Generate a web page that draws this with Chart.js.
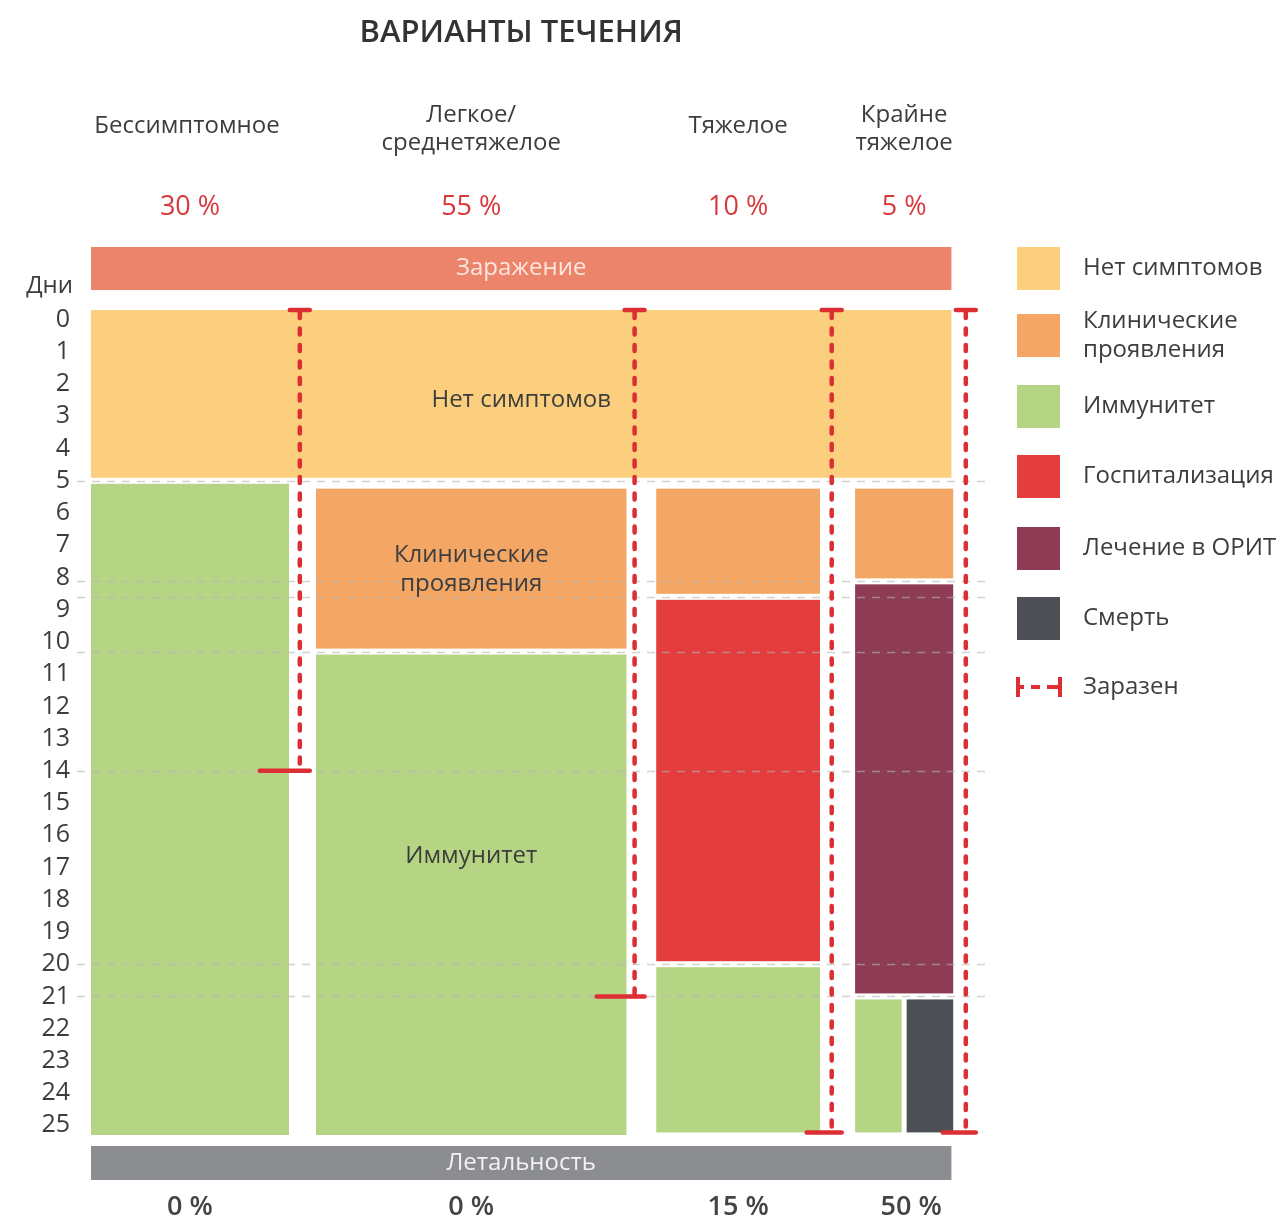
<!DOCTYPE html>
<html>
<head>
<meta charset="utf-8">
<script src="https://cdn.jsdelivr.net/npm/chart.js@4.4.1/dist/chart.umd.min.js"></script>
<style>
  html, body { margin: 0; padding: 0; background: #fff; }
  canvas { display: block; }
</style>
</head>
<body>
<canvas id="courseChart" width="1287" height="1221"></canvas>
<script>
// ---- data ----
const courseNames = [["Бессимптомное"], ["Легкое/", "среднетяжелое"], ["Тяжелое"], ["Крайне", "тяжелое"]];
const courseShare = [30, 55, 10, 5];
const lethality = [0, 0, 15, 50];
const dayTicks = [0, 1, 2, 3, 4, 5, 6, 7, 8, 9, 10, 11, 12, 13, 14, 15, 16, 17, 18, 19, 20, 21, 22, 23, 24, 25];
const stateNames = [["Нет симптомов"], ["Клинические", "проявления"], ["Иммунитет"], ["Госпитализация"], ["Лечение в ОРИТ"], ["Смерть"]];

// phases: [state, from day, to day]
const phaseNoSymptoms = [-0.3, 5];
const phasesAsymptomatic = [[2, 5, 25.3]];
const phasesMild = [[1, 5.15, 10.3], [2, 10.3, 25.3]];
const phasesSevere = [[1, 5.15, 8.6], [3, 8.6, 20], [2, 20, 25.22]];
const phasesCritical = [[1, 5.15, 8.12], [4, 8.12, 21], [2, 21, 25.22], [5, 21, 25.22]];
const contagiousDays = [[-0.3, 14], [-0.3, 21], [-0.3, 25.22], [-0.3, 25.22]];
const changeDays = [5, 8.12, 8.6, 10.3, 14, 20, 21];

// ---- layout / style ----
const stateColors = ["#FBCF7E", "#F4A765", "#B5D585", "#E43D3E", "#8E3C56", "#4D5054"];
const columnSpan = [[0, 22], [25, 59.5], [62.8, 81], [84.9, 95.8]];
const bandSpan = [0, 95.6];
const contagiousX = [23.2, 60.4, 82.3, 97.2];
const capLeft = [40, 38, 25, 23];
const redLine = "#DC2E33";
const textColor = "#3d3d3d";
const FONT = "'Open Sans', sans-serif";

const allPhases = [phasesAsymptomatic, phasesMild, phasesSevere, phasesCritical];

function txt(ctx, s, x, y, size, color, align, weight) {
  ctx.save();
  ctx.font = (weight || 400) + " " + size + "px " + FONT;
  ctx.fillStyle = color;
  ctx.textAlign = align || "center";
  ctx.textBaseline = "middle";
  ctx.fillText(s, x, y);
  ctx.restore();
}

function drawContagious(ctx, x, y0, y1, left, right) {
  ctx.save();
  ctx.strokeStyle = redLine;
  ctx.lineWidth = 4.5;
  ctx.lineCap = "round";
  ctx.setLineDash([6, 10.5]);
  ctx.beginPath();
  ctx.moveTo(x, y0 + 2);
  ctx.lineTo(x, y1);
  ctx.stroke();
  ctx.setLineDash([]);
  ctx.beginPath();
  ctx.moveTo(x - 10, y0); ctx.lineTo(x + 10, y0);
  ctx.moveTo(x - left, y1); ctx.lineTo(x + right, y1);
  ctx.stroke();
  ctx.restore();
}

const coursePlugin = {
  id: "coursePlugin",
  beforeDatasetsDraw(chart) {
    const ctx = chart.ctx;
    const xs = chart.scales.x, ys = chart.scales.y;
    const yMin = ys.min;
    const gap = 3;
    function rect(a, b, d0, d1, color, lx, rx) {
      let top = ys.getPixelForValue(d0), bot = ys.getPixelForValue(d1);
      if (d0 > yMin + 0.01) top += gap;
      if (d1 < 25) bot -= gap;
      const x0 = xs.getPixelForValue(a) + (lx || 0);
      const x1 = xs.getPixelForValue(b) - (rx || 0);
      ctx.fillStyle = color;
      ctx.fillRect(x0, top, x1 - x0, bot - top);
    }
    // common phase without symptoms
    rect(bandSpan[0], bandSpan[1], phaseNoSymptoms[0], phaseNoSymptoms[1], stateColors[0]);
    allPhases.forEach((phases, i) => {
      const span = columnSpan[i];
      const death = phases.find(p => p[0] === 5);
      phases.forEach(p => {
        let a = span[0], b = span[1], lx = 0, rx = 0;
        if (death && p[1] === death[1] && p[2] === death[2]) {
          const m = a + (b - a) * (1 - lethality[i] / 100);
          if (p[0] === 5) { a = m; lx = 2.5; } else { b = m; rx = 2.5; }
        }
        rect(a, b, p[1], p[2], stateColors[p[0]], lx, rx);
      });
    });
    // dashed guides at phase changes
    ctx.save();
    ctx.strokeStyle = "rgba(180,180,180,0.6)";
    ctx.lineWidth = 1.5;
    ctx.setLineDash([8, 7]);
    changeDays.forEach(d => {
      const y = Math.round(ys.getPixelForValue(d)) + 0.5;
      ctx.beginPath();
      ctx.moveTo(77, y);
      ctx.lineTo(985, y);
      ctx.stroke();
    });
    ctx.restore();
  },
  afterDraw(chart) {
    const ctx = chart.ctx;
    const xs = chart.scales.x, ys = chart.scales.y;
    const area = chart.chartArea;
    const bx0 = xs.getPixelForValue(bandSpan[0]), bx1 = xs.getPixelForValue(bandSpan[1]);
    const bandMid = (bx0 + bx1) / 2;

    // contagious periods
    contagiousDays.forEach((d, i) => {
      drawContagious(ctx, xs.getPixelForValue(contagiousX[i]), ys.getPixelForValue(d[0]),
        ys.getPixelForValue(d[1]), capLeft[i], 10);
    });

    // labels inside bars
    txt(ctx, stateNames[0][0], bandMid, 400, 24, textColor);
    const c2 = (xs.getPixelForValue(columnSpan[1][0]) + xs.getPixelForValue(columnSpan[1][1])) / 2;
    txt(ctx, stateNames[1][0], c2, 555, 24, textColor);
    txt(ctx, stateNames[1][1], c2, 584, 24, textColor);
    txt(ctx, stateNames[2][0], c2, 856, 24, textColor);

    // title and column headers
    txt(ctx, "ВАРИАНТЫ ТЕЧЕНИЯ", bandMid, 33, 31, "#333", "center", 600);
    const lethalShift = [0, 0, 0, 7];
    columnSpan.forEach((s, i) => {
      const cx = (xs.getPixelForValue(s[0]) + xs.getPixelForValue(s[1])) / 2;
      const lines = courseNames[i];
      if (lines.length === 1) {
        txt(ctx, lines[0], cx - (i === 0 ? 3 : 0), 126, 24, textColor);
      } else {
        txt(ctx, lines[0], cx, 115, 24, textColor);
        txt(ctx, lines[1], cx, 143, 24, textColor);
      }
      txt(ctx, courseShare[i] + " %", cx, 207, 27, "#D8383C");
      txt(ctx, lethality[i] + " %", cx + lethalShift[i], 1207, 27, "#444", "center", 600);
    });

    // infection band and lethality band
    ctx.fillStyle = "#EC836B";
    ctx.fillRect(bx0, area.top - 63, bx1 - bx0, 43);
    txt(ctx, "Заражение", bandMid, area.top - 42, 24, "#FCE6DE");
    ctx.fillStyle = "#8B8D90";
    ctx.fillRect(bx0, area.bottom + 11, bx1 - bx0, 34);
    txt(ctx, "Летальность", bandMid, area.bottom + 28, 24, "#F2F2F2");

    // axis caption
    txt(ctx, "Дни", 73, 286, 24, textColor, "right");

    // legend
    const lx = 1017, tx = 1083;
    const boxTop = [247, 314, 385, 455, 527, 597];
    stateNames.forEach((n, i) => {
      ctx.fillStyle = stateColors[i];
      ctx.fillRect(lx, boxTop[i], 43, 43);
      const cy = boxTop[i] + 21;
      if (n.length === 1) {
        txt(ctx, n[0], tx, cy, 24, textColor, "left");
      } else {
        txt(ctx, n[0], tx, cy - 14, 24, textColor, "left");
        txt(ctx, n[1], tx, cy + 15, 24, textColor, "left");
      }
    });
    // contagious legend symbol
    ctx.save();
    ctx.strokeStyle = redLine;
    ctx.lineWidth = 4;
    ctx.beginPath();
    ctx.moveTo(1018, 677); ctx.lineTo(1018, 697);
    ctx.moveTo(1060, 677); ctx.lineTo(1060, 697);
    ctx.moveTo(1018, 687); ctx.lineTo(1024, 687);
    ctx.moveTo(1031, 687); ctx.lineTo(1040, 687);
    ctx.moveTo(1047, 687); ctx.lineTo(1060, 687);
    ctx.stroke();
    ctx.restore();
    txt(ctx, "Заразен", tx, 687, 24, textColor, "left");
  }
};

const ctx = document.getElementById("courseChart").getContext("2d");
const courseChart = new Chart(ctx, {
  type: "bar",
  data: { datasets: [] },
  options: {
    responsive: false,
    animation: false,
    devicePixelRatio: 1,
    layout: { padding: { left: 0, top: 310, right: 296, bottom: 86 } },
    plugins: { legend: { display: false }, tooltip: { enabled: false } },
    scales: {
      x: { type: "linear", min: 0, max: 100, display: false, offset: false },
      y: {
        type: "linear",
        reverse: true,
        min: -0.3,
        max: 25.3,
        offset: false,
        afterFit: (scale) => { scale.width = 91; },
        afterBuildTicks: (scale) => { scale.ticks = dayTicks.map(v => ({ value: v })); },
        grid: { display: false, drawTicks: false },
        border: { display: false },
        ticks: {
          padding: 21,
          color: textColor,
          font: { family: "Open Sans", size: 25 },
          autoSkip: false
        }
      }
    }
  },
  plugins: [coursePlugin]
});
</script>
</body>
</html>
